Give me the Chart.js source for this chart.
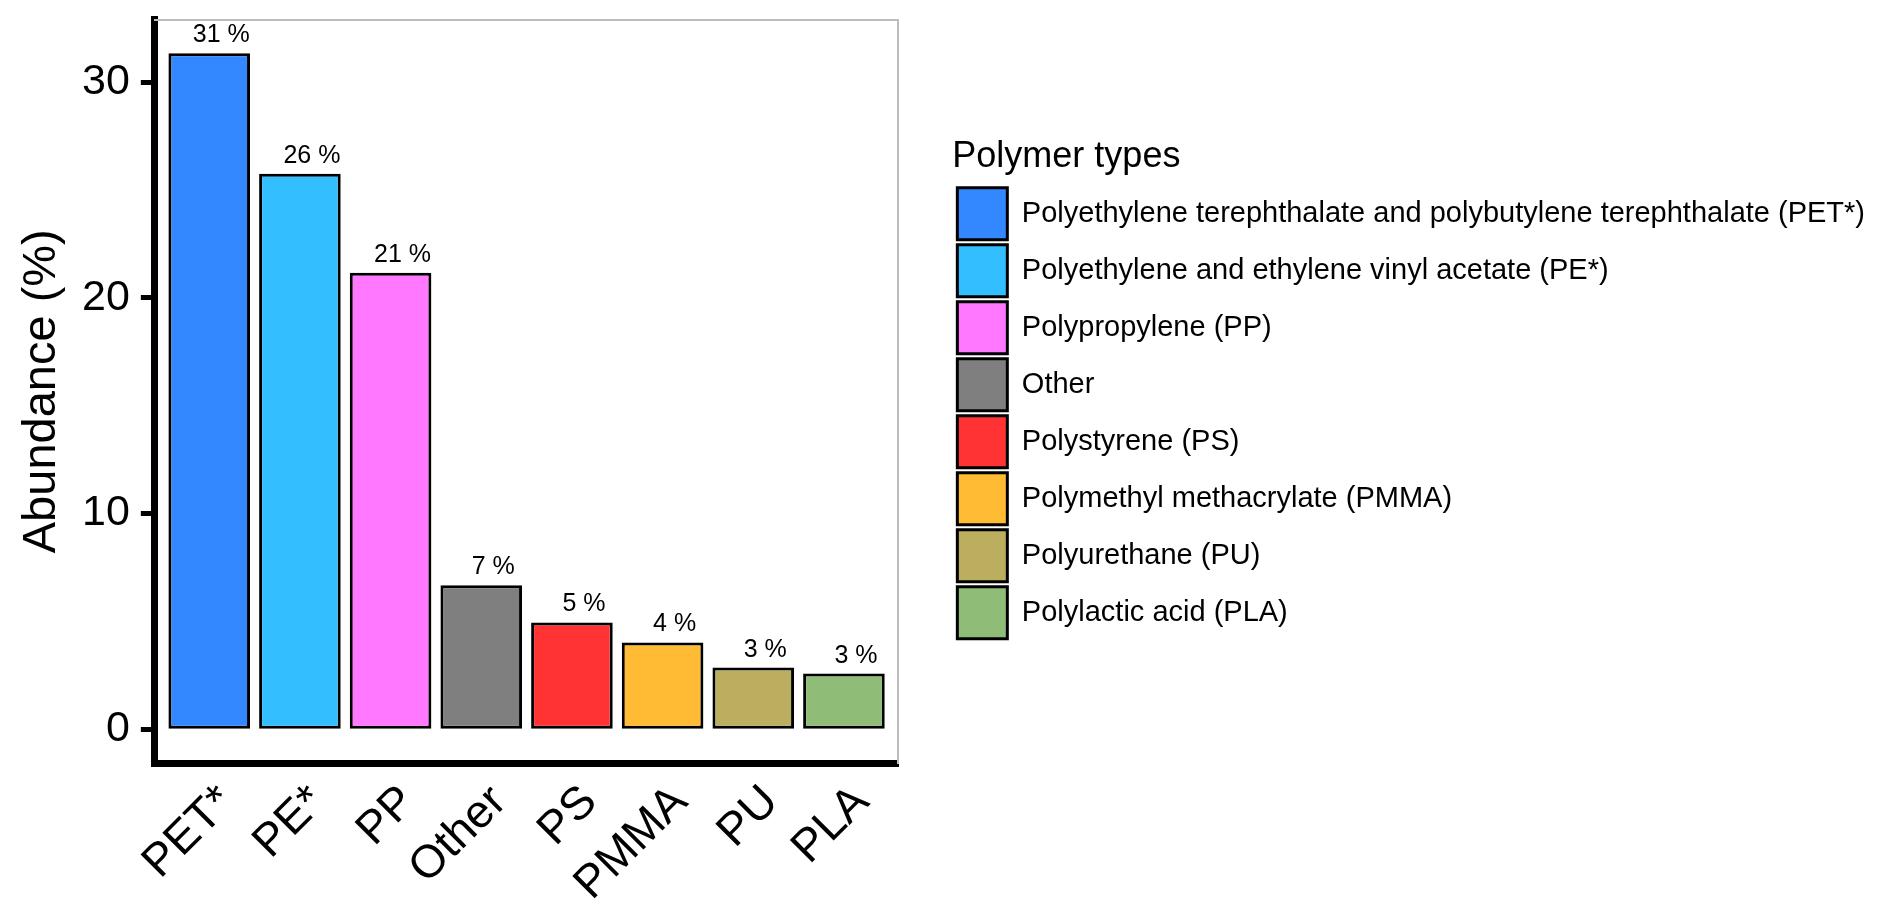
<!DOCTYPE html>
<html>
<head>
<meta charset="utf-8">
<title>Polymer types</title>
<script src="https://cdn.jsdelivr.net/npm/chart.js@4.4.1/dist/chart.umd.min.js"></script>
<style>
  html, body { margin: 0; padding: 0; background: #fff; }
  #wrap { width: 1892px; height: 910px; position: relative; }
</style>
</head>
<body>
<div id="wrap"><canvas id="abundanceChart"></canvas></div>
<script>
// data
var categories = ["PET*", "PE*", "PP", "Other", "PS", "PMMA", "PU", "PLA"];
var polymerNames = [
  "Polyethylene terephthalate and polybutylene terephthalate (PET*)",
  "Polyethylene and ethylene vinyl acetate (PE*)",
  "Polypropylene (PP)",
  "Other",
  "Polystyrene (PS)",
  "Polymethyl methacrylate (PMMA)",
  "Polyurethane (PU)",
  "Polylactic acid (PLA)"
];
var abundance = [31.33, 25.75, 21.16, 6.67, 4.95, 4.02, 2.86, 2.58];
var valueLabels = ["31 %", "26 %", "21 %", "7 %", "5 %", "4 %", "3 %", "3 %"];
var barColors = ["#3388FF", "#33BFFF", "#FF78FF", "#7F7F7F", "#FF3333", "#FFBB33", "#BBAE5F", "#8FBD77"];
var yTicks = [0, 10, 20, 30];
var yMin = -1.567;
var yMax = 32.9;
// categories sit at 1..8, with 0.6 of a slot free at each end
var xMin = 0.4;
var xMax = 8.6;

Chart.defaults.font.family = "'Liberation Sans', Arial, sans-serif";
Chart.defaults.color = "#000";

var points = abundance.map(function (v, i) { return { x: i + 1, y: v }; });

// percentage labels above each bar
var barLabels = {
  id: "barLabels",
  afterDatasetsDraw: function (chart) {
    var ctx = chart.ctx;
    var meta = chart.getDatasetMeta(0);
    ctx.save();
    ctx.font = "25px 'Liberation Sans', Arial, sans-serif";
    ctx.fillStyle = "#000";
    ctx.textAlign = "center";
    ctx.textBaseline = "alphabetic";
    meta.data.forEach(function (bar, i) {
      ctx.fillText(valueLabels[i], bar.x + 12, bar.y - 11);
    });
    ctx.restore();
  }
};

new Chart(document.getElementById("abundanceChart"), {
  type: "bar",
  data: {
    datasets: [{
      label: "Abundance",
      data: points,
      backgroundColor: barColors,
      borderColor: "#000",
      borderWidth: 3,
      borderSkipped: false,
      barPercentage: 0.9,
      categoryPercentage: 1.0
    }]
  },
  options: {
    responsive: true,
    maintainAspectRatio: false,
    animation: false,
    layout: { padding: { left: 18.5, right: 17, top: 19.5, bottom: 0 } },
    plugins: {
      tooltip: { enabled: false },
      legend: {
        display: true,
        position: "right",
        align: "center",
        fullSize: false,
        maxWidth: 980,
        onClick: null,
        title: {
          display: true,
          text: "Polymer types",
          position: "start",
          color: "#000",
          font: { size: 36 },
          padding: { top: 0, bottom: 1 }
        },
        labels: {
          boxWidth: 50,
          boxHeight: 52,
          padding: 5,
          color: "#000",
          font: { size: 29 },
          generateLabels: function () {
            return polymerNames.map(function (name, i) {
              return {
                text: name,
                fillStyle: barColors[i],
                strokeStyle: "#000",
                lineWidth: 3,
                hidden: false,
                index: i
              };
            });
          }
        }
      }
    },
    scales: {
      x: {
        type: "linear",
        position: "bottom",
        min: xMin,
        max: xMax,
        offset: false,
        afterBuildTicks: function (scale) {
          scale.ticks = categories.map(function (c, i) { return { value: i + 1 }; });
        },
        grid: { display: false, drawTicks: false },
        border: { display: true, color: "#000", width: 7 },
        ticks: {
          autoSkip: false,
          minRotation: 45,
          maxRotation: 45,
          padding: 12,
          labelOffset: 18,
          color: "#000",
          font: { size: 46 },
          callback: function (value) { return categories[value - 1]; }
        },
        afterFit: function (scale) { scale.height = 147; }
      },
      y: {
        type: "linear",
        position: "left",
        min: yMin,
        max: yMax,
        afterBuildTicks: function (scale) {
          scale.ticks = yTicks.map(function (v) { return { value: v }; });
        },
        afterFit: function (scale) {
          // the top tick is not at the edge, so no extra room is needed for it
          scale.paddingTop = 0;
          scale.paddingBottom = 0;
        },
        grid: {
          drawOnChartArea: false,
          drawTicks: true,
          tickLength: 14,
          tickWidth: 5,
          tickColor: "#000"
        },
        border: { display: true, color: "#000", width: 7 },
        ticks: {
          padding: 11,
          color: "#000",
          font: { size: 43 }
        },
        title: {
          display: true,
          text: "Abundance (%)",
          color: "#000",
          font: { size: 47, lineHeight: 1.0 },
          padding: { top: 0, bottom: 5.5 }
        }
      },
      // thin grey panel frame on top and right, the right one also keeps the gap before the legend
      x2: {
        type: "linear",
        position: "top",
        grid: { display: false },
        ticks: { display: false },
        border: { display: true, color: "#BDBDBD", width: 2 },
        afterFit: function (scale) { scale.height = 0; }
      },
      y2: {
        type: "linear",
        position: "right",
        grid: { display: false },
        ticks: { display: false },
        border: { display: true, color: "#BDBDBD", width: 2 },
        afterFit: function (scale) { scale.width = 54; }
      }
    }
  },
  plugins: [barLabels]
});
</script>
</body>
</html>
